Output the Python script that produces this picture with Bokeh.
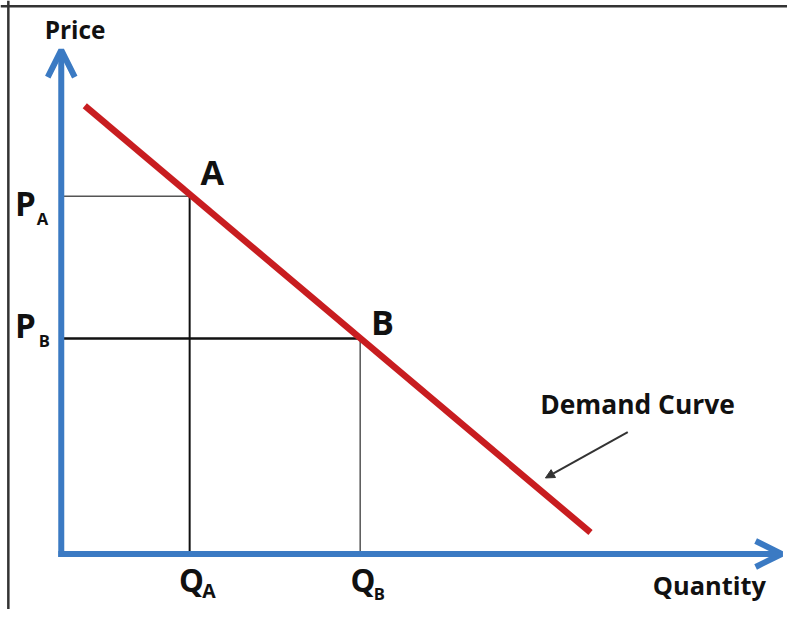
from bokeh.plotting import figure
from bokeh.models import Range1d, Arrow, OpenHead, NormalHead, Span
from bokeh.core.properties import value
from bokeh.embed import file_html
from bokeh.resources import INLINE

# ---- data (quantity / price units) ----
demand_q = [0.48, 10.8]
demand_p = [9.2, 0.44]

point_names = ["A", "B"]
point_q = [2.62, 6.1]
point_p = [7.34, 4.42]

quantity_axis_max = 14.7
price_axis_max = 10.34

annot_start = (11.56, 2.5)
annot_end = (9.88, 1.56)

BLUE = "#3b7ac3"
RED = "#c81d20"
FONT = value("Open Sans")
S = 0.977  # pixel scale of this canvas relative to the reference picture

p = figure(width=787, height=609,
           x_range=Range1d(-1.24, 14.82), y_range=Range1d(-1.14, 11.36),
           x_axis_location=None, y_axis_location=None,
           toolbar_location=None, output_backend="svg", min_border=0)
p.grid.visible = False
p.outline_line_color = None
p.background_fill_color = "white"

# frame lines (top and left of the picture)
p.add_layout(Span(location=11.24, dimension="width", line_color="#333333", line_width=2.5))
p.add_layout(Span(location=-1.08, dimension="height", line_color="#333333", line_width=2.5))

# guide lines
qa, qb = point_q
pa, pb = point_p
p.segment(x0=[0], y0=[pa], x1=[qa], y1=[pa], line_color="#555555", line_width=1.5)
p.segment(x0=[qa], y0=[pa], x1=[qa], y1=[0], line_color="#111111", line_width=2)
p.segment(x0=[0], y0=[pb], x1=[qb], y1=[pb], line_color="#111111", line_width=2.5)
p.segment(x0=[qb], y0=[pb], x1=[qb], y1=[0], line_color="#555555", line_width=1.5)

# axes with open arrow heads
p.add_layout(Arrow(end=OpenHead(size=27, line_color=BLUE, line_width=6),
                   x_start=0, y_start=-0.06, x_end=0, y_end=price_axis_max,
                   line_color=BLUE, line_width=6))
p.add_layout(Arrow(end=OpenHead(size=26, line_color=BLUE, line_width=6),
                   x_start=-0.06, y_start=0, x_end=quantity_axis_max, y_end=0,
                   line_color=BLUE, line_width=6))

# demand curve
p.line(demand_q, demand_p, line_color=RED, line_width=6.5, line_cap="butt")

# annotation arrow
p.add_layout(Arrow(end=NormalHead(size=9, fill_color="#333333", line_color="#333333"),
                   x_start=annot_start[0], y_start=annot_start[1],
                   x_end=annot_end[0], y_end=annot_end[1],
                   line_color="#333333", line_width=2))

def label(x, y, txt, size, xo, yo, align="left"):
    # yo is the wanted baseline offset; correct for the renderer's baseline placement
    size = size * S
    corr = 0.38 * size
    p.text(x=[x], y=[y], text=[txt], text_font=FONT, text_font_style="bold",
           text_font_size=f"{size:.1f}px", text_color="#111111", text_align=align,
           text_baseline="alphabetic", x_offset=xo * S, y_offset=yo * S - corr)

# point labels
label(qa, pa, point_names[0], 35, 11, -12)
label(qb, pb, point_names[1], 35, 11, -4)

# price labels
label(0, pa, "P", 34, -26, 20, "right")
label(0, pa, point_names[0], 17, -25, 29)
label(0, pb, "P", 34, -26, 0, "right")
label(0, pb, point_names[1], 17, -23, 8)

# quantity labels
label(qa, 0, "Q", 32, -11, 39)
label(qa, 0, point_names[0], 20, 13, 45)
label(qb, 0, "Q", 32, -10, 39)
label(qb, 0, point_names[1], 17, 14, 47)

# axis titles
label(0, price_axis_max, "Price", 25, -17, -12)
label(quantity_axis_max, 0, "Quantity", 26, -16, 42, "right")
label(annot_start[0], annot_start[1], "Demand Curve", 27, 10, -19, "center")

open("out.html", "w").write(file_html(p, INLINE))
